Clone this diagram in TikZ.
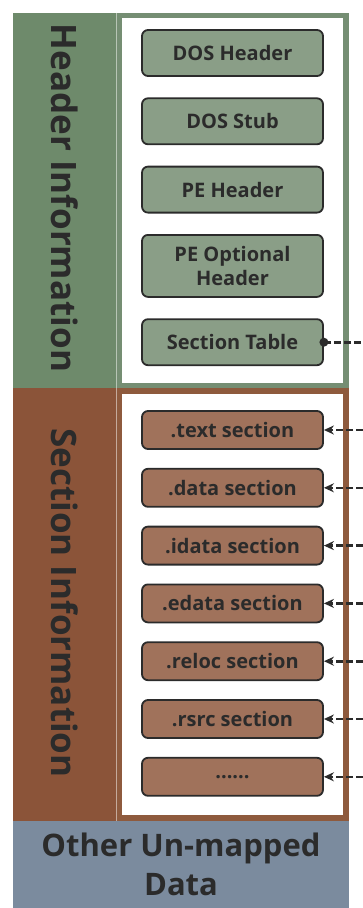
\documentclass[tikz,border=0pt]{standalone}
\usepackage{fontspec}
\setmainfont{Open Sans}
\usetikzlibrary{positioning, arrows.meta}

\definecolor{hdrdark}{HTML}{6E8A6B}
\definecolor{hdrframe}{HTML}{758E73}
\definecolor{hdrbox}{HTML}{8A9E87}
\definecolor{secdark}{HTML}{8B5439}
\definecolor{secframe}{HTML}{8E5A3D}
\definecolor{secbox}{HTML}{A0725B}
\definecolor{otherbg}{HTML}{7B8B9E}
\definecolor{txt}{HTML}{2B2B2B}

\begin{document}
\begin{tikzpicture}[x=1pt, y=-1pt,
	hbox/.style = {draw=txt, line width=1.8pt, rounded corners=6pt, fill=hdrbox, text=txt,
		minimum width=181pt, minimum height=46pt, align=center,
		font=\fontsize{20}{24}\selectfont\bfseries},
	sbox/.style = {hbox, fill=secbox, minimum height=38pt},
	biglabel/.style = {rotate=-90, text=txt, font=\fontsize{35}{40}\selectfont\bfseries},
	link/.style = {draw=txt, line width=2.6pt, dash pattern=on 7pt off 3pt}
]
	\useasboundingbox (0,0) rectangle (363,908);

	% header block
	\fill[hdrframe] (13,13) rectangle (349,388);
	\fill[hdrdark] (13,13) rectangle (116,388);
	\draw[hdrdark!50!white, line width=0.6pt] (116.5,13) -- (116.5,388);
	\fill[white] (122,18) rectangle (343,383);
	\node[biglabel] (hdrlabel) at (64.5,198) {Header Information};

	% section block
	\fill[secframe] (13,388) rectangle (349,821);
	\fill[secdark] (13,388) rectangle (116,821);
	\draw[secdark!50!white, line width=0.6pt] (116.5,388) -- (116.5,821);
	\fill[white] (122,394) rectangle (343,815);
	\node[biglabel] (seclabel) at (64.5,603) {Section Information};

	\node[fill=otherbg, minimum width=336pt, minimum height=87pt, inner sep=0pt, text=txt, align=center,
		font=\fontsize{31}{39}\selectfont\bfseries] (other) at (181,864.5) {Other Un-mapped\\Data};

	% header entries
	\node[hbox] (doshdr) at (232.5,53) {DOS Header};
	\node[hbox, below=20.5pt of doshdr] (dosstub) {DOS Stub};
	\node[hbox, below=20.5pt of dosstub] (pehdr) {PE Header};
	\node[hbox, below=20.5pt of pehdr, minimum height=62pt] (peopt) {PE Optional\\Header};
	\node[hbox, below=20.5pt of peopt] (sectab) {Section Table};

	% section entries
	\node[sbox] (txtsec) at (232.5,430) {.text section};
	\node[sbox, below=18pt of txtsec] (datasec) {.data section};
	\node[sbox, below=18pt of datasec] (idatasec) {.idata section};
	\node[sbox, below=18pt of idatasec] (edatasec) {.edata section};
	\node[sbox, below=18pt of edatasec] (relocsec) {.reloc section};
	\node[sbox, below=18pt of relocsec] (rsrcsec) {.rsrc section};
	\node[sbox, below=18pt of rsrcsec] (moresec) {......};

	% links from the section table
	\coordinate (tabend) at (sectab.east -| 363,0);
	\draw[link] (sectab.east) -- (tabend);
	\fill[txt] (sectab.east) circle (4.5pt);
	\foreach \sec in {txtsec, datasec, idatasec, edatasec, relocsec, rsrcsec, moresec} {
		\coordinate (\sec end) at (\sec.east -| 363,0);
		\draw[link, -{Stealth[length=10pt, width=9pt]}] (\sec end) -- (\sec.east);
	}
\end{tikzpicture}
\end{document}
